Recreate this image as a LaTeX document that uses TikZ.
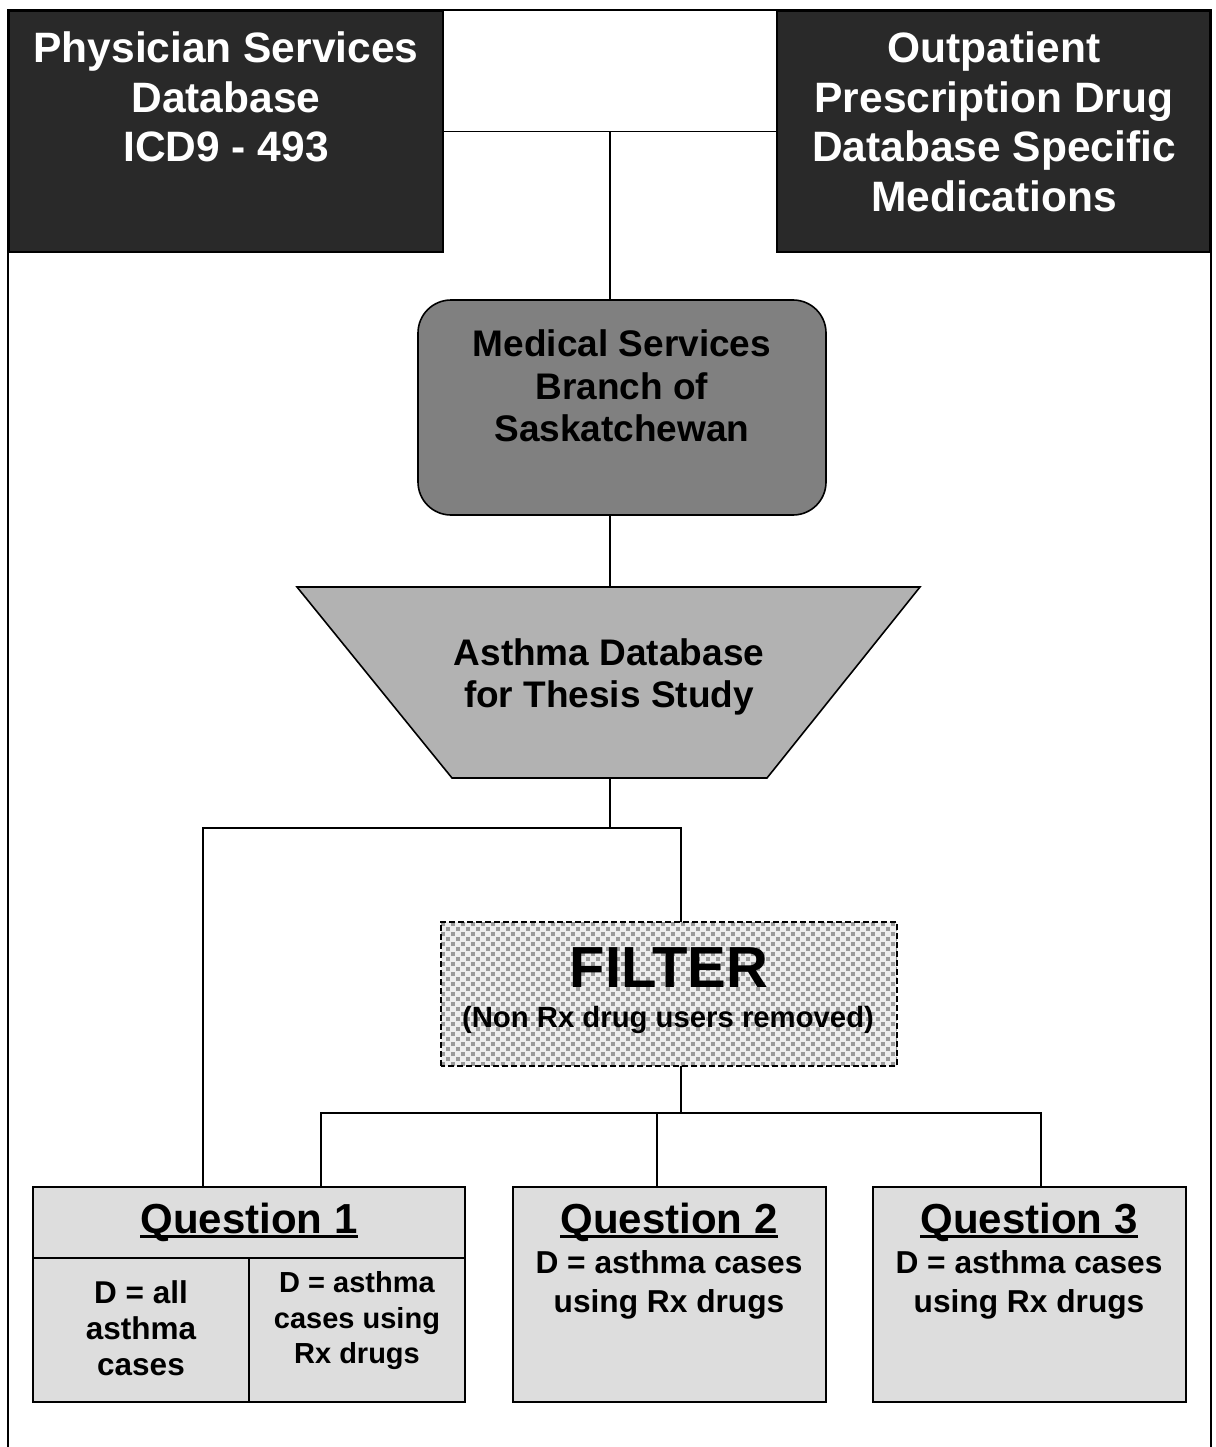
\documentclass[tikz,border=0pt]{standalone}
\usepackage{fontspec}
\setmainfont{Liberation Sans}
\newcommand\qunder[1]{\setbox0\hbox{#1}\rlap{\rule[-5pt]{\wd0}{3pt}}\box0}
\begin{document}
\begin{tikzpicture}[x=1pt,y=-1pt,
  darkbox/.style={draw=black,line width=2pt,fill=black!84,minimum width=434pt,minimum height=241pt,inner sep=0pt},
  medbox/.style={draw=black,line width=1.6pt,fill=black!50,rounded corners=33pt,minimum width=408pt,minimum height=215pt,inner sep=0pt},
  qbox/.style={draw=black,line width=2pt,fill=black!13.5,minimum height=215pt,inner sep=0pt},
  filtbox/.style={draw=none,fill=black!7,minimum width=456pt,minimum height=144pt,inner sep=0pt},
  dotsq/.style={fill=black!40},
  conn/.style={draw=black,line width=1.6pt},
  wtxt/.style={text=white,font=\fontsize{42.5}{49.5}\selectfont\bfseries,align=center,inner sep=0pt},
  btxt/.style={text=black,font=\fontsize{37}{42.5}\selectfont\bfseries,align=center,inner sep=0pt},
  qtitle/.style={text=black,font=\fontsize{42}{48}\selectfont\bfseries,align=center,inner sep=0pt},
  qsub/.style={text=black,font=\fontsize{31.7}{39}\selectfont\bfseries,align=center,inner sep=0pt},
  qsubs/.style={text=black,font=\fontsize{29}{35.5}\selectfont\bfseries,align=center,inner sep=0pt}
]
\useasboundingbox (0,0) rectangle (1215,1447);
\fill[white] (0,0) rectangle (1215,1447);
% frame
\draw[line width=2pt] (8,1447) -- (8,10) -- (1211,10) -- (1211,1447);

% top boxes
\node[darkbox] (phys) at (226,131.5) {};
\node[darkbox,minimum width=433pt] (outp) at (993.5,131.5) {};
\node[wtxt] (physt) at (226,97) {Physician Services\\Database\\ICD9 - 493};
\node[wtxt] (outpt) at (994,122) {Outpatient\\Prescription Drug\\Database Specific\\Medications};

% medical services
\node[medbox] (med) at (622,407.5) {};
\node[btxt] (medt) at (622,386) {Medical Services\\Branch of\\Saskatchewan};

% trapezoid
\coordinate (trapT) at (610,587);
\coordinate (trapB) at (610,778);
\draw[line width=1.6pt,fill=black!30] (297,587) -- (920,587) -- (767,778) -- (452,778) -- cycle;
\node[btxt,font=\fontsize{37}{42}\selectfont\bfseries] (asth) at (609,677) {Asthma Database\\for Thesis Study};

% filter
\node[filtbox] (filt) at (669,994) {};
\begin{scope}
\clip (filt.south west) rectangle (filt.north east);
\foreach \j in {0,...,29} {
  \pgfmathsetmacro\yy{922+5*\j}
  \pgfmathsetmacro\off{mod(\j,2)*5}
  \foreach \i in {0,...,46} {
    \fill[dotsq] ({441+\off+10*\i},\yy) rectangle ++(3.7,3.7);
  }
}
\end{scope}
\draw[line width=1.6pt,dash pattern=on 6pt off 3pt] (filt.south west) rectangle (filt.north east);
\node[text=black,font=\fontsize{58}{60}\selectfont\bfseries,inner sep=0pt] (filtt) at (669,968) {FILTER};
\node[text=black,font=\fontsize{29.3}{32}\selectfont\bfseries,inner sep=0pt] (filts) at (668,1020) {(Non Rx drug users removed)};

% question boxes
\node[qbox,minimum width=432pt] (q1) at (249,1294.5) {};
\node[qbox,minimum width=313pt] (q2) at (669.5,1294.5) {};
\node[qbox,minimum width=313pt] (q3) at (1029.5,1294.5) {};
\draw[line width=2pt] (33,1258) -- (465,1258);
\draw[line width=2pt] (249,1258) -- (249,1402);
\node[qtitle] (q1t) at (249,1222) {\qunder{Question 1}};
\node[qtitle] (q2t) at (669,1222) {\qunder{Question 2}};
\node[qtitle] (q3t) at (1029,1222) {\qunder{Question 3}};
\node[qsub] (q2s) at (669,1285) {D = asthma cases\\using Rx drugs};
\node[qsub] (q3s) at (1029,1285) {D = asthma cases\\using Rx drugs};
\node[qsubs,font=\fontsize{31.5}{36}\selectfont\bfseries] (q1a) at (141,1328) {D = all\\asthma\\cases};
\node[qsubs] (q1b) at (357,1321) {D = asthma\\cases using\\Rx drugs};

% connectors
\coordinate (j1) at (610,131.5);
\draw[conn] (phys.east) -- (outp.west);
\draw[conn] (j1) -- (j1 |- med.north);
\draw[conn] (trapT |- med.south) -- (trapT);
\coordinate (j2) at (610,828);
\coordinate (j3) at (203,828);
\coordinate (j4) at (681,828);
\draw[conn] (trapB) -- (j2);
\draw[conn] (j3 |- q1.north) -- (j3) -- (j4) -- (j4 |- filt.north);
\coordinate (j5) at (681,1113);
\coordinate (j6) at (321,1113);
\coordinate (j7) at (1041,1113);
\coordinate (j8) at (657,1113);
\draw[conn] (j5 |- filt.south) -- (j5);
\draw[conn] (j6 |- q1.north) -- (j6) -- (j7) -- (j7 |- q3.north);
\draw[conn] (j8) -- (j8 |- q2.north);
\end{tikzpicture}
\end{document}
